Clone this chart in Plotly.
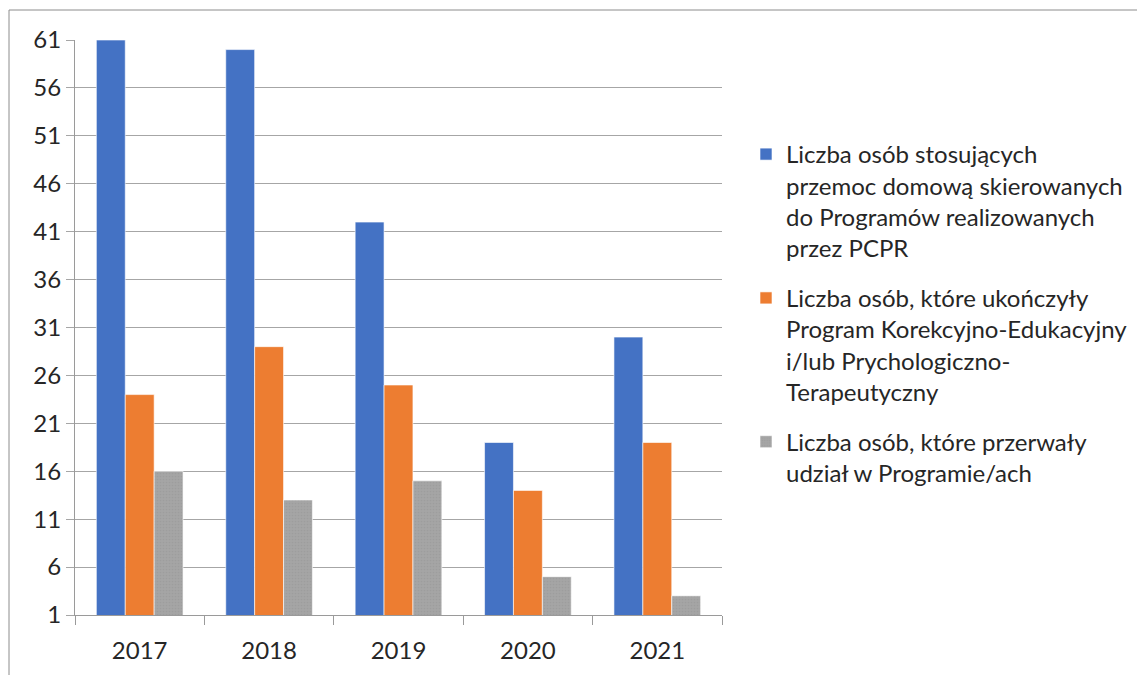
import plotly.graph_objects as go

years = ["2017", "2018", "2019", "2020", "2021"]
skierowani = [61, 60, 42, 19, 30]
ukonczyli = [24, 29, 25, 14, 19]
przerwali = [16, 13, 15, 5, 3]

names = [
    "Liczba osób stosujących<br>przemoc domową skierowanych<br>do Programów realizowanych<br>przez PCPR",
    "Liczba osób, które ukończyły<br>Program Korekcyjno-Edukacyjny<br>i/lub Prychologiczno-<br>Terapeutyczny",
    "Liczba osób, które przerwały<br>udział w Programie/ach",
]
colors = ["#4472C4", "#ED7D31", "#A5A5A5"]
series = [skierowani, ukonczyli, przerwali]

fig = go.Figure()
for i, (nm, vals, c) in enumerate(zip(names, series, colors)):
    marker = dict(color=c, line=dict(color="rgba(255,255,255,0.6)", width=1))
    if i == 2:
        marker["pattern"] = dict(shape=".", fgcolor="#969696", bgcolor=c,
                                 size=3, solidity=0.25)
    fig.add_trace(go.Bar(x=years, y=vals, name=nm, legendgroup=f"g{i}",
                         marker=marker))

font_family = "Lato, 'Open Sans', sans-serif"
# page is offset by 8px body margin; plot area in screen: x 75-722, y 40-615
fig.update_layout(
    width=1145, height=675,
    margin=dict(l=67, r=431, t=32, b=68, autoexpand=False),
    paper_bgcolor="white", plot_bgcolor="white",
    barmode="group", bargap=0.33, bargroupgap=0,
    font=dict(family=font_family, size=24, color="#262626"),
    legend=dict(x=(746 - 75) / 647, y=(615 - 132) / 575,
                xanchor="left", yanchor="top", valign="top",
                font=dict(size=24, color="#262626"), tracegroupgap=16,
                itemwidth=30),
    showlegend=True,
    xaxis=dict(showline=True, linecolor="#9a9a9a", linewidth=1,
               ticks="outside", ticklen=9, tickcolor="#9a9a9a",
               tickson="boundaries", showgrid=False, automargin=False,
               ticklabelstandoff=14,
               tickfont=dict(size=24, color="#262626")),
    yaxis=dict(range=[1, 61], tick0=1, dtick=5, showgrid=True,
               gridcolor="#a6a6a6", gridwidth=1, showline=True,
               linecolor="#9a9a9a", ticks="outside", ticklen=8,
               tickcolor="#a6a6a6", zeroline=False, automargin=False,
               tickfont=dict(size=24, color="#262626")),
)

fig.add_shape(type="rect", xref="paper", yref="paper",
              x0=(9 - 75) / 647, x1=(1160 - 75) / 647,
              y0=(615 - 690) / 575, y1=(615 - 10) / 575,
              line=dict(color="#8c8c8c", width=1), layer="below")

fig.write_html("out.html")
